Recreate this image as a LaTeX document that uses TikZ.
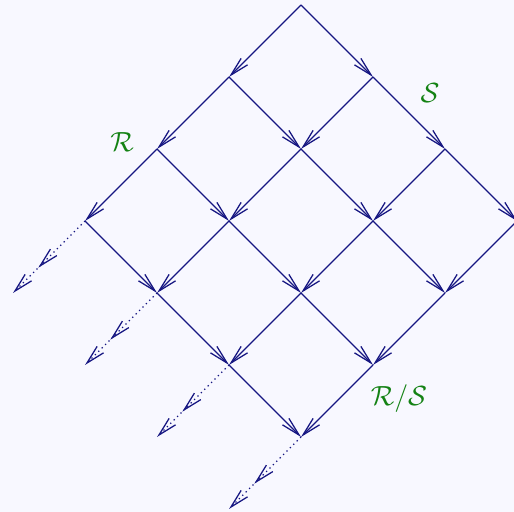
\documentclass[tikz,border=0pt]{standalone}
\usepackage{xcolor}
\usepackage{tikz}
\usetikzlibrary{arrows.meta,calc,decorations.markings}
\definecolor{bgcol}{RGB}{248,248,255}
\definecolor{edgecol}{RGB}{22,22,130}
\definecolor{labcol}{RGB}{20,130,20}

\begin{document}
\begin{tikzpicture}[every node/.style={font=\fontsize{11}{13}\selectfont, text=labcol}, arr/.style={-{Straight Barb[length=7.5pt, width=3.6pt]}, draw=edgecol, line width=0.5pt}, dotarr/.style={arr, dash pattern=on 0.5pt off 1.4pt, postaction={decorate}, decoration={markings, mark=at position 0.65 with {\arrow[solid]{Straight Barb[length=7.5pt, width=3.6pt]}}}}]
\fill[bgcol] (-4.181,0.069) rectangle (2.958,-7.042);
\useasboundingbox (-4.181,0.069) rectangle (2.958,-7.042);
\clip (-4.181,0.069) rectangle (2.958,-7.042);
\foreach \i in {0,...,4} {\foreach \j in {0,...,3} {\coordinate (p\i\j) at (\j-\i,-\i-\j);}}
\foreach \i in {0,1,2} {\foreach \j in {0,...,3} {\draw[arr] (p\i\j) -- (p\the\numexpr\i+1\relax\j);}}
\foreach \i in {0,...,3} {\foreach \j in {0,1,2} {\draw[arr] (p\i\j) -- (p\i\the\numexpr\j+1\relax);}}
\foreach \j in {0,...,3} {\draw[dotarr] (p3\j) -- (p4\j);}
\node (lR) at (-2.486,-1.903) {$\mathcal{R}$};
\node (lS) at (1.792,-1.222) {$\mathcal{S}$};
\node (lRS) at (1.36,-5.47) {$\mathcal{R}/\mathcal{S}$};
\end{tikzpicture}
\end{document}
